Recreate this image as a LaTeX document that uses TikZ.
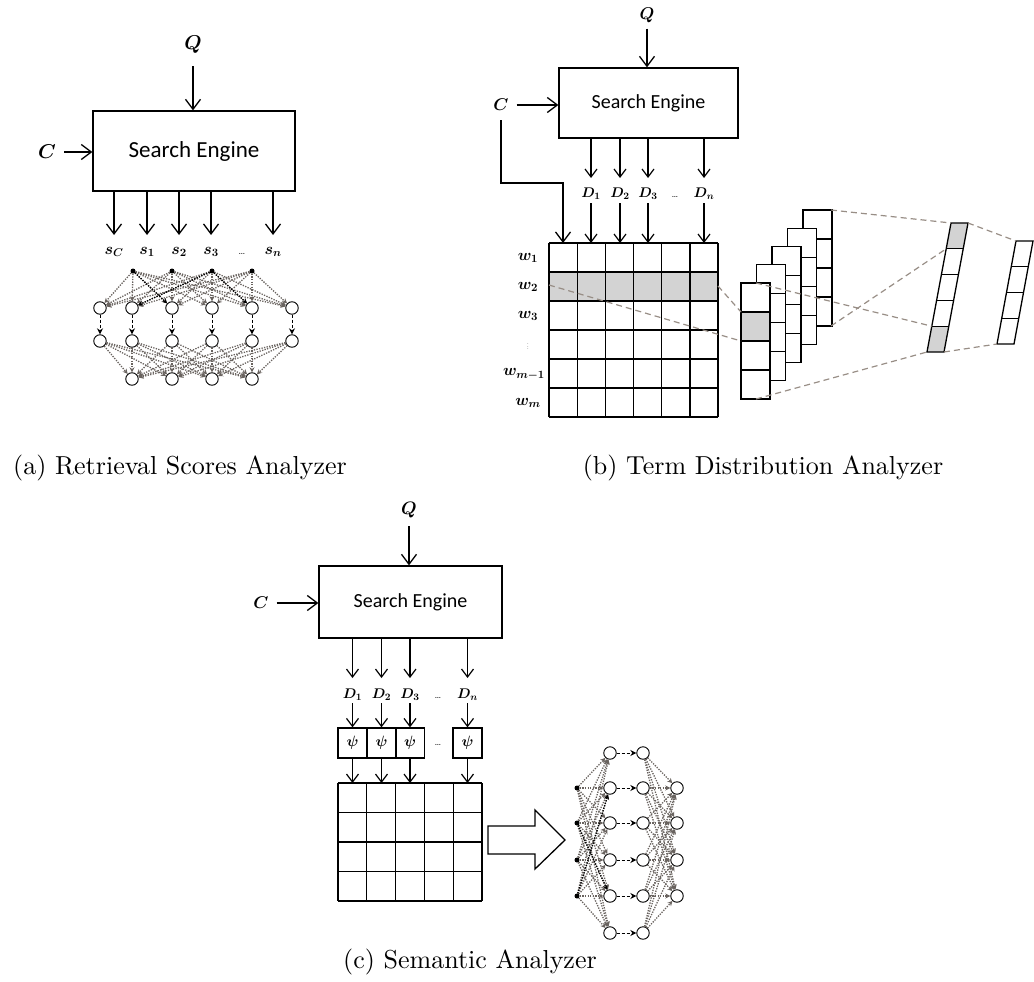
\RequirePackage{fix-cm}
\documentclass[tikz,border=0pt]{standalone}
\usepackage{amsmath}
\usepackage{bm}
\usepackage{graphicx}
\usepackage{fontspec}
\newfontfamily\enginefont{Carlito}
\usetikzlibrary{arrows.meta}

\definecolor{cellgray}{RGB}{211,211,211}
\definecolor{netgray}{RGB}{105,99,95}
\definecolor{dashgray}{RGB}{152,142,134}

\newcommand{\figcap}[1]{\scalebox{2.6}{\fontsize{10}{12}\selectfont #1}}

\tikzset{
  engine/.style={draw, line width=1.3pt, inner sep=0pt, font=\enginefont\fontsize{#1}{#1}\selectfont},
  engine/.default=20,
  flow/.style={line width=1.3pt, -{Straight Barb[length=10pt,width=15pt]}},
  flowsm/.style={line width=1.2pt, -{Straight Barb[length=8pt,width=12pt]}},
  mlab/.style={inner sep=0pt, font=\fontsize{#1}{#1}\selectfont},
  cell/.style={line width=1.3pt},
  neur/.style={circle, draw, line width=0.9pt, minimum size=12.5pt, inner sep=0pt, fill=white},
  ndot/.style={circle, fill=black, minimum size=5pt, inner sep=0pt},
  net/.style={draw=netgray, line width=1.3pt, dash pattern=on 1.3pt off 1.3pt, -{Stealth[length=5pt,width=5pt]}},
  netk/.style={net, draw=black},
  link/.style={line width=1pt, dash pattern=on 3pt off 2pt, -{Stealth[length=6pt,width=6pt]}},
  proj/.style={draw=dashgray, line width=1.2pt, dash pattern=on 6pt off 4pt},
  caption/.style={inner sep=0pt}
}

\begin{document}
\begin{tikzpicture}[x=1pt,y=-1pt]
\useasboundingbox (0,0) rectangle (1034,982);

% ---------------- (a) retrieval scores ----------------
\node[engine=23, minimum width=202pt, minimum height=80pt] (seA) at (194,151) {Search Engine};
\node[mlab=20] (QA) at (193,45) {$\bm{Q}$};
\node[mlab=20] (CA) at (47,152) {$\bm{C}$};
\draw[flow, shorten <=12pt] (QA) -- (QA |- seA.north);
\draw[flow, shorten <=8pt] (CA) -- (CA -| seA.west);

\coordinate (aTip) at (0,235);
\node[mlab=16, anchor=base] (sA1) at (114,254) {$\bm{s_C}$};
\node[mlab=16, anchor=base] (sA2) at (147,254) {$\bm{s_1}$};
\node[mlab=16, anchor=base] (sA3) at (179,254) {$\bm{s_2}$};
\node[mlab=16, anchor=base] (sA4) at (211,254) {$\bm{s_3}$};
\node[mlab=11, anchor=base] (sAd) at (242,254) {\ldots};
\node[mlab=16, anchor=base] (sA5) at (273,254) {$\bm{s_n}$};
\foreach \i in {1,...,5}
  \draw[flow] (sA\i |- seA.south) -- (sA\i |- aTip);

% score network
\foreach \x [count=\i] in {133,172,212,252}
  \node[ndot] (dA\i) at (\x,271) {};
\foreach \x [count=\i] in {100,132,172,212,252,292} {
  \node[neur] (rA\i) at (\x,308) {};
  \node[neur] (mA\i) at (\x,341) {};
}
\foreach \x [count=\i] in {132,172,212,252}
  \node[neur] (bA\i) at (\x,379) {};
\foreach \i in {1,...,4}
  \foreach \j in {1,...,6}
    \draw[net] (dA\i) -- (rA\j);
\draw[netk] (dA1) -- (rA3);
\draw[netk] (dA3) -- (rA2);
\draw[netk] (dA3) -- (rA5);
\foreach \j in {1,...,6}
  \draw[link] (rA\j) -- (mA\j);
\foreach \i in {1,...,6}
  \foreach \j in {1,...,4}
    \draw[net] (mA\i) -- (bA\j);

\node[caption] (capA) at (180,468) {\figcap{(a) Retrieval Scores Analyzer}};

% ---------------- (b) term distribution ----------------
\node[engine=20, minimum width=179pt, minimum height=70pt] (seB) at (648.5,103) {Search Engine};
\node[mlab=17] (QB) at (647,15) {$\bm{Q}$};
\node[mlab=17] (CB) at (501,105) {$\bm{C}$};
\draw[flow, shorten <=6pt] (QB) -- (QB |- seB.north);
\draw[flow, shorten <=8pt] (CB) -- (CB -| seB.west);

\coordinate (bendB) at (0,183);
\coordinate (colC) at (563,243);
\draw[flow, shorten <=9pt] (CB) -- (CB |- bendB) -| (colC);

\coordinate (bEnd) at (0,178);
\coordinate (bStart) at (0,203);
\coordinate (tblTop) at (0,243);
\node[mlab=14, anchor=base] (DB1) at (591,197) {$\bm{D_1}$};
\node[mlab=14, anchor=base] (DB2) at (620,197) {$\bm{D_2}$};
\node[mlab=14, anchor=base] (DB3) at (648,197) {$\bm{D_3}$};
\node[mlab=10, anchor=base] (DBd) at (675,197) {\ldots};
\node[mlab=14, anchor=base] (DB4) at (704,197) {$\bm{D_n}$};
\foreach \i in {1,...,4} {
  \draw[flowsm] (DB\i |- seB.south) -- (DB\i |- bEnd);
  \draw[flowsm] (DB\i |- bStart) -- (DB\i |- tblTop);
}

% term-document table
\fill[cellgray] (549,272) rectangle (718,301);
\foreach \k in {0,...,6} {
  \draw[cell] ({549+28.17*\k},243) -- ({549+28.17*\k},417);
  \draw[cell] (549,{243+29*\k}) -- (718,{243+29*\k});
}
\node[mlab=16] (w1) at (528,258) {$\bm{w_1}$};
\node[mlab=16] (w2) at (528,287) {$\bm{w_2}$};
\node[mlab=16] (w3) at (528,316) {$\bm{w_3}$};
\node[mlab=10] (wd) at (528,345) {\scalebox{0.6}{$\vdots$}};
\node[mlab=16] (wm1) at (524,374) {$\bm{w_{m-1}}$};
\node[mlab=16] (wm) at (528,403) {$\bm{w_m}$};

% stacked term vectors, back to front
\foreach \k in {4,3,2,1,0} {
  \pgfmathsetmacro\vx{741+15.5*\k}
  \pgfmathsetmacro\vy{283-18.25*\k}
  \draw[cell, fill=white] (\vx,\vy) rectangle ++(29,116);
  \foreach \r in {1,2,3}
    \draw[cell] (\vx,{\vy+29*\r}) -- ++(29,0);
}
\draw[cell, fill=cellgray] (741,312) rectangle (770,341);

% pooled vector
\coordinate (s1tl) at (951,223);
\coordinate (s1tr) at (968,223);
\coordinate (s1br) at (944,352);
\coordinate (s1bl) at (927,352);
\fill[white] (s1tl) -- (s1tr) -- (s1br) -- (s1bl) -- cycle;
\fill[cellgray] (951,223) -- (968,223) -- (963.2,248.8) -- (946.2,248.8) -- cycle;
\fill[cellgray] (931.8,326.2) -- (948.8,326.2) -- (944,352) -- (927,352) -- cycle;
\foreach \t in {0.2,0.4,0.6,0.8}
  \draw[cell] ({951-24*\t},{223+129*\t}) -- ++(17,0);
\draw[cell] (s1tl) -- (s1tr) -- (s1br) -- (s1bl) -- cycle;

% output vector
\coordinate (s2tl) at (1016,241);
\coordinate (s2tr) at (1033,241);
\coordinate (s2br) at (1014,344);
\coordinate (s2bl) at (997,344);
\foreach \t in {0.25,0.5,0.75}
  \draw[cell] ({1016-19*\t},{241+103*\t}) -- ++(17,0);
\draw[cell] (s2tl) -- (s2tr) -- (s2br) -- (s2bl) -- cycle;

% projection guides
\draw[proj] (549,285) -- (741,341);
\draw[proj] (718,286) -- (741,312);
\draw[proj] (831,210) -- (s1tl);
\draw[proj] (831,326) -- (946.2,248.8);
\draw[proj] (756,283) -- (931.8,326.2);
\draw[proj] (756,399) -- (s1bl);
\draw[proj] (s1tr) -- (s2tl);
\draw[proj] (s1br) -- (s2bl);

\node[caption] (capB) at (763,468) {\figcap{(b) Term Distribution Analyzer}};

% ---------------- (c) semantic ----------------
\node[engine=20, minimum width=183pt, minimum height=72pt] (seC) at (410.5,602) {Search Engine};
\node[mlab=18] (QC) at (409,510) {$\bm{Q}$};
\node[mlab=17] (CC) at (261,603) {$\bm{C}$};
\draw[flow, shorten <=8pt] (QC) -- (QC |- seC.north);
\draw[flow, shorten <=8pt] (CC) -- (CC -| seC.west);

\coordinate (cEnd) at (0,678);
\coordinate (cStart) at (0,703);
\coordinate (gTop) at (0,783);
\node[mlab=14, anchor=base] (DC1) at (352.5,698) {$\bm{D_1}$};
\node[mlab=14, anchor=base] (DC2) at (381.5,698) {$\bm{D_2}$};
\node[mlab=14, anchor=base] (DC3) at (410,698) {$\bm{D_3}$};
\node[mlab=10, anchor=base] (DCd) at (438,698) {\ldots};
\node[mlab=14, anchor=base] (DC4) at (467.5,698) {$\bm{D_n}$};

\tikzset{psibox/.style={draw, line width=1.3pt, minimum width=29pt, minimum height=30pt, inner sep=0pt, font=\fontsize{15}{15}\selectfont}}
\node[psibox] (pC1) at (352.5,743) {$\bm{\psi}$};
\node[psibox] (pC2) at (381.5,743) {$\bm{\psi}$};
\node[psibox] (pC3) at (410,743) {$\bm{\psi}$};
\node[mlab=10] (pCd) at (438,745) {\ldots};
\node[psibox] (pC4) at (467.5,743) {$\bm{\psi}$};
\foreach \i in {1,...,4} {
  \draw[flowsm] (DC\i |- seC.south) -- (DC\i |- cEnd);
  \draw[flowsm] (DC\i |- cStart) -- (pC\i.north);
  \draw[flowsm] (pC\i.south) -- (pC\i |- gTop);
}

% embedding matrix
\foreach \k in {0,...,5}
  \draw[cell] ({338+28.8*\k},783) -- ({338+28.8*\k},901);
\foreach \k in {0,...,4}
  \draw[cell] (338,{783+29.5*\k}) -- (482,{783+29.5*\k});

% block arrow
\draw[line width=1.3pt, fill=white] (488,826) -- (535,826) -- (535,810) -- (565,840)
  -- (535,869) -- (535,854) -- (488,854) -- cycle;

% semantic network
\foreach \y [count=\i] in {788,823,860,896}
  \node[ndot] (dC\i) at (577,\y) {};
\foreach \y [count=\i] in {753,788,823,860,896,933} {
  \node[neur] (aC\i) at (610,\y) {};
  \node[neur] (bC\i) at (643,\y) {};
}
\foreach \y [count=\i] in {788,823,860,896}
  \node[neur] (cC\i) at (677,\y) {};
\foreach \i in {1,...,4}
  \foreach \j in {1,...,6}
    \draw[net] (dC\i) -- (aC\j);
\draw[netk] (dC4) -- (aC2);
\draw[netk] (dC2) -- (aC5);
\foreach \j in {1,...,6}
  \draw[link] (aC\j) -- (bC\j);
\foreach \i in {1,...,6}
  \foreach \j in {1,...,4}
    \draw[net] (bC\i) -- (cC\j);

\node[caption] (capC) at (470,962) {\figcap{(c) Semantic Analyzer}};
\end{tikzpicture}
\end{document}
